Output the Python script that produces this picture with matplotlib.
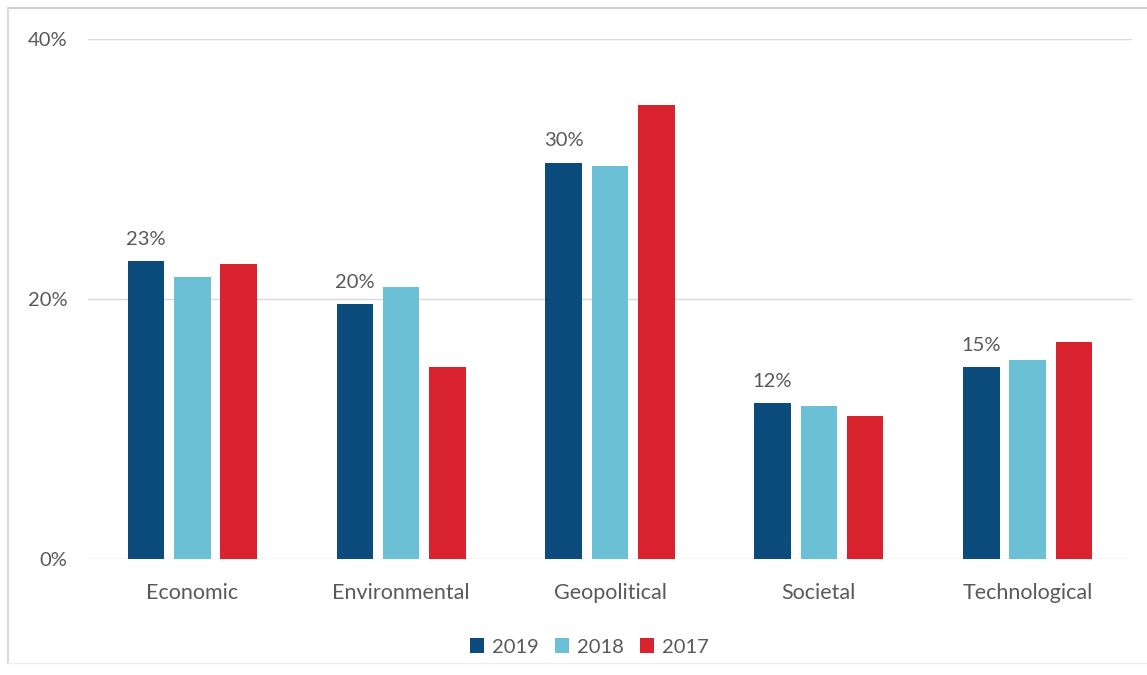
import numpy as np
import matplotlib.pyplot as plt
from matplotlib.lines import Line2D

categories = ['Economic', 'Environmental', 'Geopolitical', 'Societal', 'Technological']
years = ['2019', '2018', '2017']
v2019 = [22.9, 19.6, 30.5, 12.0, 14.8]
v2018 = [21.7, 20.9, 30.2, 11.8, 15.3]
v2017 = [22.7, 14.8, 34.9, 11.0, 16.7]
labels2019 = ['23%', '20%', '30%', '12%', '15%']

colors = ['#0b4c7c', '#6cc0d5', '#d9242f']
text_color = '#595959'
fs = 14.5

plt.rcParams['font.family'] = ['Lato', 'DejaVu Sans']

fig = plt.figure(figsize=(11.47, 6.75), dpi=100)
ax = fig.add_axes([88 / 1147, 116 / 675, 1044 / 1147, 520 / 675])

x = np.arange(len(categories))
width = 0.175
step = 0.222
series = [v2019, v2018, v2017]
bars = []
for i, vals in enumerate(series):
    b = ax.bar(x + (i - 1) * step, vals, width, color=colors[i], label=years[i], zorder=3)
    bars.append(b)

for rect, lab in zip(bars[0], labels2019):
    ax.text(rect.get_x() + rect.get_width() / 2, rect.get_height() + 1.0, lab,
            ha='center', va='bottom', fontsize=fs, color=text_color)

ax.set_xlim(-0.5, len(categories) - 0.5)
ax.set_ylim(0, 40)
ax.set_yticks([0, 20, 40])
ax.set_yticklabels(['0%', '20%', '40%'])
ax.set_xticks(x)
ax.set_xticklabels(categories)
ax.tick_params(axis='both', length=0, labelsize=fs, colors=text_color)
ax.tick_params(axis='x', labelsize=15.5, pad=17)
ax.tick_params(axis='y', pad=15)
ax.grid(axis='y', color='#d9d9d9', linewidth=1.0, zorder=0)
for s in ax.spines.values():
    s.set_visible(False)

ax.legend(loc='upper center', bbox_to_anchor=(0.48, -0.118), ncol=3, frameon=False,
          fontsize=fs, handlelength=0.7, handleheight=0.7, handletextpad=0.4,
          columnspacing=0.8, labelcolor=text_color)

# light frame around the chart
fig.add_artist(Line2D([8 / 1147, 1.0], [1 - 8 / 675, 1 - 8 / 675], color='#cfcfcf', linewidth=1.5))
fig.add_artist(Line2D([8 / 1147, 8 / 1147], [1 - 8 / 675, 1 - 663 / 675], color='#dcdcdc', linewidth=1.5))
fig.add_artist(Line2D([8 / 1147, 1.0], [1 - 663 / 675, 1 - 663 / 675], color='#efefef', linewidth=1.0))

fig.savefig('out.png', dpi=100)
